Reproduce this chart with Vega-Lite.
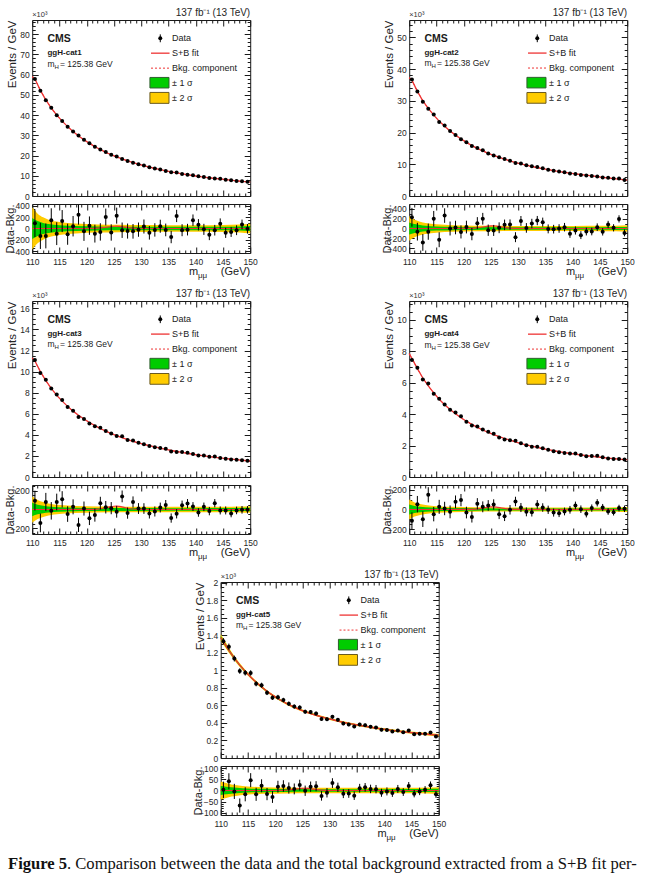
{
  "$schema": "https://vega.github.io/schema/vega-lite/v6.json",
  "background": "#ffffff",
  "padding": {"left": 3, "top": 7, "right": 0, "bottom": 0},
  "config": {
    "font": "Liberation Sans",
    "view": {"stroke": "#1a1a1a", "strokeWidth": 1},
    "axis": {"grid": false, "domain": false, "tickColor": "#1a1a1a", "tickWidth": 1, "labelFont": "Liberation Sans", "labelFontSize": 8.5, "labelColor": "#262626", "labelFlush": false, "labelOverlap": false, "titleFont": "Liberation Sans", "titleFontWeight": "normal", "titleColor": "#262626"},
    "title": {"anchor": "end", "frame": "group", "fontSize": 10, "fontWeight": "normal", "font": "Liberation Sans", "color": "#262626", "offset": -7},
    "text": {"font": "Liberation Sans", "color": "#1a1a1a"}
  },
  "datasets": {
    "one": [{"n": 1}],
    "c1": [
      {"m":110,"f":59.0},
      {"m":110.5,"f":57.8,"d":57.89,"r":90,"e":241},{"m":111.5,"f":52.2,"d":52.07,"r":-130,"e":228},{"m":112.5,"f":47.5,"d":47.37,"r":-130,"e":218},{"m":113.5,"f":43.5,"d":43.65,"r":145,"e":209},
      {"m":114.5,"f":40.0,"d":39.91,"r":-90,"e":200},{"m":115.5,"f":37.0,"d":37.13,"r":130,"e":193},{"m":116.5,"f":34.3,"d":34.2,"r":-100,"e":185},{"m":117.5,"f":31.9,"d":31.94,"r":40,"e":179},
      {"m":118.5,"f":29.7,"d":29.94,"r":240,"e":173},{"m":119.5,"f":27.8,"d":27.75,"r":-50,"e":167},{"m":120.5,"f":26.0,"d":26.05,"r":50,"e":161},{"m":121.5,"f":24.4,"d":24.31,"r":-90,"e":156},
      {"m":122.5,"f":23.0,"d":22.94,"r":-60,"e":152},{"m":123.5,"f":21.6,"d":21.8,"r":200,"e":148},{"m":124.5,"f":20.4,"d":20.33,"r":-70,"e":143},{"m":125.5,"f":19.3,"d":19.53,"r":225,"e":140},
      {"m":126.5,"f":18.3,"d":18.27,"r":-30,"e":135},{"m":127.5,"f":17.4,"d":17.36,"r":-45,"e":132},{"m":128.5,"f":16.5,"d":16.45,"r":-50,"e":128},{"m":129.5,"f":15.7,"d":15.68,"r":-20,"e":125},
      {"m":130.5,"f":15.0,"d":15.04,"r":35,"e":123},{"m":131.5,"f":14.3,"d":14.23,"r":-75,"e":119},{"m":132.5,"f":13.6,"d":13.58,"r":-25,"e":117},{"m":133.5,"f":13.0,"d":13.04,"r":40,"e":114},
      {"m":134.5,"f":12.4,"d":12.38,"r":-25,"e":111},{"m":135.5,"f":11.9,"d":11.75,"r":-150,"e":108},{"m":136.5,"f":11.4,"d":11.62,"r":220,"e":108},{"m":137.5,"f":10.95,"d":10.92,"r":-30,"e":105},
      {"m":138.5,"f":10.5,"d":10.48,"r":-20,"e":102},{"m":139.5,"f":10.1,"d":10.25,"r":145,"e":101},{"m":140.5,"f":9.7,"d":9.77,"r":65,"e":99},{"m":141.5,"f":9.35,"d":9.34,"r":-15,"e":97},
      {"m":142.5,"f":9.0,"d":8.89,"r":-110,"e":94},{"m":143.5,"f":8.7,"d":8.67,"r":-30,"e":93},{"m":144.5,"f":8.4,"d":8.49,"r":85,"e":92},{"m":145.5,"f":8.1,"d":8.03,"r":-75,"e":90},
      {"m":146.5,"f":7.8,"d":7.74,"r":-60,"e":88},{"m":147.5,"f":7.5,"d":7.47,"r":-30,"e":86},{"m":148.5,"f":7.25,"d":7.32,"r":70,"e":86},{"m":149.5,"f":7.0,"d":6.99,"r":-5,"e":84},
      {"m":150,"f":6.9}
    ],
    "c2": [
      {"m":110,"f":37.3},
      {"m":110.5,"f":36.5,"d":36.73,"r":230,"e":192},{"m":111.5,"f":33.0,"d":32.94,"r":-65,"e":182},{"m":112.5,"f":30.0,"d":29.72,"r":-285,"e":172},{"m":113.5,"f":27.6,"d":27.54,"r":-65,"e":166},
      {"m":114.5,"f":25.5,"d":25.7,"r":200,"e":160},{"m":115.5,"f":23.6,"d":23.37,"r":-230,"e":153},{"m":116.5,"f":22.0,"d":22.27,"r":265,"e":149},{"m":117.5,"f":20.5,"d":20.5,"r":0,"e":143},
      {"m":118.5,"f":19.2,"d":19.22,"r":20,"e":139},{"m":119.5,"f":18.0,"d":17.93,"r":-70,"e":134},{"m":120.5,"f":16.9,"d":16.93,"r":30,"e":130},{"m":121.5,"f":15.9,"d":15.79,"r":-115,"e":126},
      {"m":122.5,"f":15.0,"d":15.11,"r":110,"e":123},{"m":123.5,"f":14.2,"d":14.4,"r":200,"e":120},{"m":124.5,"f":13.45,"d":13.42,"r":-35,"e":116},{"m":125.5,"f":12.8,"d":12.76,"r":-40,"e":113},
      {"m":126.5,"f":12.2,"d":12.22,"r":15,"e":111},{"m":127.5,"f":11.6,"d":11.68,"r":75,"e":108},{"m":128.5,"f":11.05,"d":11.13,"r":80,"e":106},{"m":129.5,"f":10.55,"d":10.37,"r":-178,"e":102},
      {"m":130.5,"f":10.1,"d":10.26,"r":155,"e":101},{"m":131.5,"f":9.7,"d":9.71,"r":12,"e":99},{"m":132.5,"f":9.3,"d":9.4,"r":102,"e":97},{"m":133.5,"f":8.95,"d":9.11,"r":162,"e":95},
      {"m":134.5,"f":8.6,"d":8.73,"r":130,"e":93},{"m":135.5,"f":8.3,"d":8.29,"r":-8,"e":91},{"m":136.5,"f":8.0,"d":7.99,"r":-14,"e":89},{"m":137.5,"f":7.7,"d":7.7,"r":0,"e":88},
      {"m":138.5,"f":7.45,"d":7.48,"r":27,"e":87},{"m":139.5,"f":7.2,"d":7.09,"r":-108,"e":84},{"m":140.5,"f":6.95,"d":6.91,"r":-41,"e":83},{"m":141.5,"f":6.75,"d":6.61,"r":-136,"e":81},
      {"m":142.5,"f":6.55,"d":6.49,"r":-61,"e":81},{"m":143.5,"f":6.35,"d":6.29,"r":-61,"e":79},{"m":144.5,"f":6.1,"d":6.13,"r":27,"e":78},{"m":145.5,"f":5.9,"d":5.83,"r":-68,"e":76},
      {"m":146.5,"f":5.7,"d":5.78,"r":81,"e":76},{"m":147.5,"f":5.5,"d":5.51,"r":14,"e":74},{"m":148.5,"f":5.3,"d":5.5,"r":197,"e":74},{"m":149.5,"f":5.1,"d":5.01,"r":-90,"e":71},
      {"m":150,"f":5.0}
    ],
    "c3": [
      {"m":110,"f":11.3},
      {"m":110.5,"f":11.0,"d":11.09,"r":93,"e":105},{"m":111.5,"f":10.0,"d":9.86,"r":-141,"e":99},{"m":112.5,"f":9.15,"d":9.23,"r":79,"e":96},{"m":113.5,"f":8.4,"d":8.39,"r":-14,"e":92},
      {"m":114.5,"f":7.75,"d":7.83,"r":79,"e":88},{"m":115.5,"f":7.2,"d":7.31,"r":107,"e":86},{"m":116.5,"f":6.7,"d":6.65,"r":-48,"e":82},{"m":117.5,"f":6.25,"d":6.28,"r":28,"e":79},
      {"m":118.5,"f":5.85,"d":5.69,"r":-162,"e":75},{"m":119.5,"f":5.5,"d":5.51,"r":10,"e":74},{"m":120.5,"f":5.17,"d":5.08,"r":-93,"e":71},{"m":121.5,"f":4.87,"d":4.81,"r":-59,"e":69},
      {"m":122.5,"f":4.6,"d":4.67,"r":66,"e":68},{"m":123.5,"f":4.35,"d":4.37,"r":24,"e":66},{"m":124.5,"f":4.12,"d":4.13,"r":14,"e":64},{"m":125.5,"f":3.92,"d":3.9,"r":-24,"e":62},
      {"m":126.5,"f":3.73,"d":3.87,"r":138,"e":62},{"m":127.5,"f":3.55,"d":3.51,"r":-38,"e":59},{"m":128.5,"f":3.39,"d":3.47,"r":79,"e":59},{"m":129.5,"f":3.24,"d":3.25,"r":10,"e":57},
      {"m":130.5,"f":3.1,"d":3.11,"r":10,"e":56},{"m":131.5,"f":2.97,"d":2.93,"r":-41,"e":54},{"m":132.5,"f":2.85,"d":2.83,"r":-21,"e":53},{"m":133.5,"f":2.73,"d":2.75,"r":21,"e":52},
      {"m":134.5,"f":2.62,"d":2.67,"r":48,"e":52},{"m":135.5,"f":2.52,"d":2.43,"r":-90,"e":49},{"m":136.5,"f":2.42,"d":2.38,"r":-45,"e":49},{"m":137.5,"f":2.33,"d":2.38,"r":45,"e":49},
      {"m":138.5,"f":2.24,"d":2.3,"r":62,"e":48},{"m":139.5,"f":2.16,"d":2.19,"r":31,"e":47},{"m":140.5,"f":2.08,"d":2.05,"r":-31,"e":45},{"m":141.5,"f":2.01,"d":2.04,"r":28,"e":45},
      {"m":142.5,"f":1.94,"d":1.92,"r":-17,"e":44},{"m":143.5,"f":1.87,"d":1.94,"r":66,"e":44},{"m":144.5,"f":1.81,"d":1.8,"r":-10,"e":42},{"m":145.5,"f":1.75,"d":1.74,"r":-10,"e":42},
      {"m":146.5,"f":1.69,"d":1.65,"r":-41,"e":41},{"m":147.5,"f":1.64,"d":1.63,"r":-10,"e":40},{"m":148.5,"f":1.59,"d":1.59,"r":-3,"e":40},{"m":149.5,"f":1.54,"d":1.54,"r":-3,"e":39},
      {"m":150,"f":1.52}
    ],
    "c4": [
      {"m":110,"f":7.85},
      {"m":110.5,"f":7.55,"d":7.44,"r":-115,"e":86},{"m":111.5,"f":6.9,"d":6.95,"r":54,"e":83},{"m":112.5,"f":6.3,"d":6.2,"r":-98,"e":79},{"m":113.5,"f":5.8,"d":5.95,"r":149,"e":77},
      {"m":114.5,"f":5.35,"d":5.3,"r":-47,"e":73},{"m":115.5,"f":4.95,"d":4.98,"r":27,"e":71},{"m":116.5,"f":4.6,"d":4.61,"r":10,"e":68},{"m":117.5,"f":4.3,"d":4.28,"r":-24,"e":65},
      {"m":118.5,"f":4.02,"d":4.1,"r":78,"e":64},{"m":119.5,"f":3.77,"d":3.87,"r":95,"e":62},{"m":120.5,"f":3.55,"d":3.52,"r":-31,"e":59},{"m":121.5,"f":3.35,"d":3.28,"r":-75,"e":57},
      {"m":122.5,"f":3.16,"d":3.22,"r":58,"e":57},{"m":123.5,"f":2.99,"d":3.02,"r":27,"e":55},{"m":124.5,"f":2.84,"d":2.88,"r":41,"e":54},{"m":125.5,"f":2.7,"d":2.75,"r":51,"e":52},
      {"m":126.5,"f":2.57,"d":2.52,"r":-47,"e":50},{"m":127.5,"f":2.45,"d":2.38,"r":-68,"e":49},{"m":128.5,"f":2.34,"d":2.34,"r":-3,"e":48},{"m":129.5,"f":2.23,"d":2.31,"r":81,"e":48},
      {"m":130.5,"f":2.13,"d":2.15,"r":20,"e":46},{"m":131.5,"f":2.04,"d":2.02,"r":-24,"e":45},{"m":132.5,"f":1.96,"d":1.93,"r":-27,"e":44},{"m":133.5,"f":1.88,"d":1.93,"r":51,"e":44},
      {"m":134.5,"f":1.81,"d":1.83,"r":20,"e":43},{"m":135.5,"f":1.74,"d":1.74,"r":-3,"e":42},{"m":136.5,"f":1.67,"d":1.64,"r":-31,"e":41},{"m":137.5,"f":1.61,"d":1.57,"r":-37,"e":40},
      {"m":138.5,"f":1.55,"d":1.53,"r":-20,"e":39},{"m":139.5,"f":1.5,"d":1.5,"r":-3,"e":39},{"m":140.5,"f":1.45,"d":1.49,"r":41,"e":39},{"m":141.5,"f":1.4,"d":1.4,"r":3,"e":38},
      {"m":142.5,"f":1.36,"d":1.32,"r":-44,"e":36},{"m":143.5,"f":1.32,"d":1.33,"r":14,"e":37},{"m":144.5,"f":1.28,"d":1.35,"r":68,"e":37},{"m":145.5,"f":1.24,"d":1.26,"r":20,"e":36},
      {"m":146.5,"f":1.2,"d":1.18,"r":-20,"e":34},{"m":147.5,"f":1.17,"d":1.14,"r":-27,"e":34},{"m":148.5,"f":1.14,"d":1.15,"r":14,"e":34},{"m":149.5,"f":1.11,"d":1.12,"r":7,"e":33},
      {"m":150,"f":1.1}
    ],
    "c5": [
      {"m":110,"f":1.375},
      {"m":110.5,"f":1.33,"d":1.333,"r":3,"e":36.5,"ek":0.0365},{"m":111.5,"f":1.23,"d":1.271,"r":41,"e":35.7,"ek":0.0357},{"m":112.5,"f":1.14,"d":1.136,"r":-4,"e":33.7,"ek":0.0337},{"m":113.5,"f":1.06,"d":0.993,"r":-67,"e":31.5,"ek":0.0315},
      {"m":114.5,"f":0.99,"d":0.973,"r":-17,"e":31.2,"ek":0.0312},{"m":115.5,"f":0.925,"d":0.971,"r":46,"e":31.2,"ek":0.0312},{"m":116.5,"f":0.865,"d":0.848,"r":-17,"e":29.1,"ek":0.0291},{"m":117.5,"f":0.81,"d":0.831,"r":21,"e":28.8,"ek":0.0288},
      {"m":118.5,"f":0.762,"d":0.746,"r":-16,"e":27.3,"ek":0.0273},{"m":119.5,"f":0.718,"d":0.689,"r":-29,"e":26.2,"ek":0.0262},{"m":120.5,"f":0.678,"d":0.695,"r":17,"e":26.4,"ek":0.0264},{"m":121.5,"f":0.642,"d":0.662,"r":20,"e":25.7,"ek":0.0257},
      {"m":122.5,"f":0.609,"d":0.62,"r":11,"e":24.9,"ek":0.0249},{"m":123.5,"f":0.58,"d":0.587,"r":7,"e":24.2,"ek":0.0242},{"m":124.5,"f":0.553,"d":0.577,"r":24,"e":24.0,"ek":0.024},{"m":125.5,"f":0.53,"d":0.529,"r":-1,"e":23.0,"ek":0.023},
      {"m":126.5,"f":0.508,"d":0.525,"r":17,"e":22.9,"ek":0.0229},{"m":127.5,"f":0.488,"d":0.507,"r":19,"e":22.5,"ek":0.0225},{"m":128.5,"f":0.47,"d":0.446,"r":-24,"e":21.1,"ek":0.0211},{"m":129.5,"f":0.453,"d":0.443,"r":-10,"e":21.0,"ek":0.021},
      {"m":130.5,"f":0.437,"d":0.47,"r":33,"e":21.7,"ek":0.0217},{"m":131.5,"f":0.422,"d":0.436,"r":14,"e":20.9,"ek":0.0209},{"m":132.5,"f":0.408,"d":0.394,"r":-14,"e":19.8,"ek":0.0198},{"m":133.5,"f":0.395,"d":0.382,"r":-13,"e":19.5,"ek":0.0195},
      {"m":134.5,"f":0.383,"d":0.36,"r":-23,"e":19.0,"ek":0.019},{"m":135.5,"f":0.372,"d":0.382,"r":10,"e":19.5,"ek":0.0195},{"m":136.5,"f":0.361,"d":0.375,"r":14,"e":19.4,"ek":0.0194},{"m":137.5,"f":0.351,"d":0.358,"r":7,"e":18.9,"ek":0.0189},
      {"m":138.5,"f":0.341,"d":0.347,"r":6,"e":18.6,"ek":0.0186},{"m":139.5,"f":0.332,"d":0.322,"r":-10,"e":17.9,"ek":0.0179},{"m":140.5,"f":0.323,"d":0.319,"r":-4,"e":17.9,"ek":0.0179},{"m":141.5,"f":0.315,"d":0.304,"r":-11,"e":17.4,"ek":0.0174},
      {"m":142.5,"f":0.307,"d":0.314,"r":7,"e":17.7,"ek":0.0177},{"m":143.5,"f":0.3,"d":0.293,"r":-7,"e":17.1,"ek":0.0171},{"m":144.5,"f":0.293,"d":0.313,"r":20,"e":17.7,"ek":0.0177},{"m":145.5,"f":0.286,"d":0.272,"r":-14,"e":16.5,"ek":0.0165},
      {"m":146.5,"f":0.28,"d":0.276,"r":-4,"e":16.6,"ek":0.0166},{"m":147.5,"f":0.274,"d":0.277,"r":3,"e":16.6,"ek":0.0166},{"m":148.5,"f":0.268,"d":0.291,"r":23,"e":17.1,"ek":0.0171},{"m":149.5,"f":0.263,"d":0.246,"r":-17,"e":15.7,"ek":0.0157},
      {"m":150,"f":0.26}
    ],
    "k1": [
      {"m":110,"c":0,"e1":185,"e2":370},{"m":111,"c":0,"e1":130,"e2":260},{"m":112,"c":0,"e1":98,"e2":195},{"m":113,"c":0,"e1":78,"e2":155},{"m":115,"c":0,"e1":58,"e2":115},
      {"m":118,"c":0,"e1":44,"e2":88},{"m":122,"c":0,"e1":36,"e2":72},{"m":126,"c":0,"e1":32,"e2":64},{"m":130,"c":0,"e1":30,"e2":60},{"m":135,"c":0,"e1":29,"e2":58},
      {"m":140,"c":0,"e1":29,"e2":58},{"m":145,"c":0,"e1":31,"e2":62},{"m":148,"c":0,"e1":35,"e2":70},{"m":150,"c":0,"e1":43,"e2":85}
    ],
    "k2": [
      {"m":110,"c":0,"e1":125,"e2":250},{"m":111,"c":0,"e1":90,"e2":180},{"m":112,"c":0,"e1":70,"e2":140},{"m":113,"c":0,"e1":56,"e2":112},{"m":115,"c":0,"e1":43,"e2":85},
      {"m":118,"c":0,"e1":34,"e2":67},{"m":122,"c":0,"e1":29,"e2":58},{"m":126,"c":0,"e1":27,"e2":54},{"m":130,"c":0,"e1":26,"e2":52},{"m":135,"c":0,"e1":26,"e2":51},
      {"m":140,"c":0,"e1":26,"e2":51},{"m":145,"c":0,"e1":27,"e2":54},{"m":148,"c":0,"e1":29,"e2":58},{"m":150,"c":0,"e1":33,"e2":66}
    ],
    "k3": [
      {"m":110,"c":0,"e1":70,"e2":140},{"m":111,"c":0,"e1":50,"e2":100},{"m":112,"c":0,"e1":39,"e2":78},{"m":113,"c":0,"e1":31,"e2":62},{"m":115,"c":0,"e1":24,"e2":47},
      {"m":118,"c":0,"e1":19,"e2":37},{"m":122,"c":0,"e1":16,"e2":32},{"m":126,"c":0,"e1":15,"e2":30},{"m":130,"c":0,"e1":15,"e2":29},{"m":135,"c":0,"e1":14,"e2":28},
      {"m":140,"c":0,"e1":14,"e2":28},{"m":145,"c":0,"e1":15,"e2":29},{"m":148,"c":0,"e1":16,"e2":31},{"m":150,"c":0,"e1":18,"e2":35}
    ],
    "k4": [
      {"m":110,"c":0,"e1":50,"e2":100},{"m":111,"c":0,"e1":36,"e2":72},{"m":112,"c":0,"e1":28,"e2":56},{"m":113,"c":0,"e1":23,"e2":45},{"m":115,"c":0,"e1":17,"e2":34},
      {"m":118,"c":0,"e1":14,"e2":27},{"m":122,"c":0,"e1":12,"e2":23},{"m":126,"c":0,"e1":11,"e2":21},{"m":130,"c":0,"e1":10,"e2":20},{"m":135,"c":0,"e1":10,"e2":20},
      {"m":140,"c":0,"e1":10,"e2":20},{"m":145,"c":0,"e1":11,"e2":21},{"m":148,"c":0,"e1":12,"e2":23},{"m":150,"c":0,"e1":13,"e2":26}
    ],
    "k5": [
      {"m":110,"c":0,"e1":20,"e2":40,"f":1.375,"g1":0.02,"g2":0.04},{"m":111,"c":0,"e1":17,"e2":33,"f":1.28,"g1":0.017,"g2":0.033},{"m":112,"c":0,"e1":14,"e2":27,"f":1.185,"g1":0.014,"g2":0.027},
      {"m":113,"c":0,"e1":12,"e2":23,"f":1.1,"g1":0.012,"g2":0.023},{"m":115,"c":0,"e1":9,"e2":18,"f":0.957,"g1":0.009,"g2":0.018},{"m":118,"c":0,"e1":7.5,"e2":15,"f":0.785,"g1":0.0075,"g2":0.015},
      {"m":122,"c":0,"e1":6.5,"e2":13,"f":0.625,"g1":0.0065,"g2":0.013},{"m":126,"c":0,"e1":6,"e2":12,"f":0.519,"g1":0.006,"g2":0.012},{"m":130,"c":0,"e1":6,"e2":12,"f":0.445,"g1":0.006,"g2":0.012},
      {"m":135,"c":0,"e1":6,"e2":12,"f":0.377,"g1":0.006,"g2":0.012},{"m":140,"c":0,"e1":6,"e2":12,"f":0.327,"g1":0.006,"g2":0.012},{"m":145,"c":0,"e1":6.3,"e2":12.5,"f":0.289,"g1":0.0063,"g2":0.0125},
      {"m":148,"c":0,"e1":6.8,"e2":13.5,"f":0.271,"g1":0.0068,"g2":0.0135},{"m":150,"c":0,"e1":7.5,"e2":15,"f":0.26,"g1":0.0075,"g2":0.015}
    ],
    "sig": [
      {"m":110,"s1":0,"s2":0,"s3":0,"s4":0,"s5":0},
      {"m":120,"s1":0.4,"s2":0.6,"s3":0.4,"s4":0.3,"s5":0.1},
      {"m":121,"s1":1.2,"s2":1.7,"s3":1,"s4":0.8,"s5":0.3},
      {"m":122,"s1":5,"s2":7,"s3":4,"s4":3,"s5":1.2},
      {"m":123,"s1":14,"s2":20,"s3":13,"s4":10,"s5":3.6},
      {"m":124,"s1":29,"s2":40,"s3":25,"s4":19,"s5":7.2},
      {"m":124.5,"s1":35,"s2":48,"s3":31,"s4":24,"s5":8.8},
      {"m":125,"s1":39,"s2":54,"s3":34,"s4":26,"s5":9.8},
      {"m":125.5,"s1":40,"s2":55,"s3":35,"s4":27,"s5":10},
      {"m":126,"s1":36,"s2":50,"s3":32,"s4":25,"s5":9.1},
      {"m":127,"s1":23,"s2":31,"s3":20,"s4":15,"s5":5.7},
      {"m":128,"s1":10,"s2":13,"s3":8,"s4":6.5,"s5":2.4},
      {"m":129,"s1":3,"s2":4,"s3":2.5,"s4":2,"s5":0.7},
      {"m":130,"s1":0.4,"s2":0.6,"s3":0.4,"s4":0.3,"s5":0.1},
      {"m":131,"s1":0,"s2":0,"s3":0,"s4":0,"s5":0},
      {"m":150,"s1":0,"s2":0,"s3":0,"s4":0,"s5":0}
    ]
  },
  "spacing": 9,
  "vconcat": [
    {
      "spacing": 7,
      "center": true,
      "vconcat": [
        {
          "spacing": 122,
          "hconcat": [
            {
              "spacing": 8,
              "bounds": "flush",
              "vconcat": [
                {
                  "width": 218, "height": 176,
                  "title": "137 fb⁻¹ (13 TeV)",
                  "resolve": {"axis": {"x": "independent", "y": "independent"}},
                  "layer": [
                    {
                      "layer": [
                        {"data": {"name": "c1"}, "mark": {"type": "line", "color": "#ee3333", "strokeWidth": 1, "strokeDash": [2, 2]},
                         "encoding": {
                           "x": {"field": "m", "type": "quantitative", "scale": {"domain": [110, 150], "nice": false, "zero": false},
                             "axis": {"orient": "bottom", "tickCount": 40, "labels": false, "title": null, "tickSize": {"expr": "datum.value % 5 === 0 ? -6 : -3"}}},
                           "y": {"field": "f", "type": "quantitative", "title": "Events / GeV", "scale": {"domain": [0, 87], "nice": false},
                             "axis": {"orient": "left", "tickCount": 40, "titleAnchor": "end", "titleFontSize": 11.5, "titleX": -15, "labelPadding": 9,
                               "labelExpr": "datum.value % 10 === 0 ? format(datum.value, '~g') : ''",
                               "tickSize": {"expr": "datum.value % 10 === 0 ? -6 : -3"}}}}},
                        {"data": {"name": "c1"}, "mark": {"type": "line", "color": "#ee3333", "strokeWidth": 1.3},
                         "encoding": {"x": {"field": "m", "type": "quantitative"}, "y": {"field": "f", "type": "quantitative", "title": "Events / GeV"}}},
                        {"data": {"name": "c1"}, "transform": [{"filter": "isValid(datum.d)"}], "mark": {"type": "circle", "size": 16, "color": "#000000", "opacity": 1},
                         "encoding": {"x": {"field": "m", "type": "quantitative"}, "y": {"field": "d", "type": "quantitative", "title": "Events / GeV"}}},
                        {
                          "data": {"name": "one"},
                          "layer": [
                            {"mark": {"type": "text", "align": "left", "baseline": "alphabetic", "fontSize": 7.5, "dy": -3, "color": "#333333"}, "encoding": {"x": {"datum": 110}, "y": {"datum": 87}, "text": {"value": "×10³"}}},
                            {"mark": {"type": "text", "align": "left", "baseline": "alphabetic", "fontSize": 10.5, "fontWeight": "bold"}, "encoding": {"x": {"datum": 112.8}, "y": {"datum": 76.3}, "text": {"value": "CMS"}}},
                            {"mark": {"type": "text", "align": "left", "baseline": "alphabetic", "fontSize": 8, "fontWeight": "bold"}, "encoding": {"x": {"datum": 112.8}, "y": {"datum": 69.8}, "text": {"value": "ggH-cat1"}}},
                            {"mark": {"type": "text", "align": "left", "baseline": "alphabetic", "fontSize": 8.5}, "encoding": {"x": {"datum": 112.8}, "y": {"datum": 64.0}, "text": {"value": "m"}}},
                            {"mark": {"type": "text", "align": "left", "baseline": "alphabetic", "fontSize": 6, "dx": 7, "dy": 2}, "encoding": {"x": {"datum": 112.8}, "y": {"datum": 64.0}, "text": {"value": "H"}}},
                            {"mark": {"type": "text", "align": "left", "baseline": "alphabetic", "fontSize": 8.5, "dx": 12.5}, "encoding": {"x": {"datum": 112.8}, "y": {"datum": 64.0}, "text": {"value": "= 125.38 GeV"}}},
                            {"mark": {"type": "rule", "color": "#000000", "strokeWidth": 1}, "encoding": {"x": {"datum": 133.5}, "y": {"datum": 76.0}, "y2": {"datum": 79.9}}},
                            {"mark": {"type": "circle", "size": 16, "color": "#000000", "opacity": 1}, "encoding": {"x": {"datum": 133.5}, "y": {"datum": 77.95}}},
                            {"mark": {"type": "text", "align": "left", "baseline": "middle", "fontSize": 9}, "encoding": {"x": {"datum": 135.65}, "y": {"datum": 77.95}, "text": {"value": "Data"}}},
                            {"mark": {"type": "rule", "color": "#ee3333", "strokeWidth": 1.3}, "encoding": {"x": {"datum": 131.8}, "x2": {"datum": 135.2}, "y": {"datum": 70.6}}},
                            {"mark": {"type": "text", "align": "left", "baseline": "middle", "fontSize": 9}, "encoding": {"x": {"datum": 135.65}, "y": {"datum": 70.6}, "text": {"value": "S+B fit"}}},
                            {"mark": {"type": "rule", "color": "#ee3333", "strokeWidth": 1, "strokeDash": [2, 2]}, "encoding": {"x": {"datum": 131.8}, "x2": {"datum": 135.2}, "y": {"datum": 63.2}}},
                            {"mark": {"type": "text", "align": "left", "baseline": "middle", "fontSize": 9}, "encoding": {"x": {"datum": 135.65}, "y": {"datum": 63.2}, "text": {"value": "Bkg. component"}}},
                            {"mark": {"type": "rect", "fill": "#00cc00", "stroke": "#2f5f2f", "strokeWidth": 1}, "encoding": {"x": {"datum": 131.6}, "x2": {"datum": 135.1}, "y": {"datum": 58.6}, "y2": {"datum": 53.4}}},
                            {"mark": {"type": "text", "align": "left", "baseline": "middle", "fontSize": 9}, "encoding": {"x": {"datum": 135.65}, "y": {"datum": 56.0}, "text": {"value": "± 1 σ"}}},
                            {"mark": {"type": "rect", "fill": "#ffcc00", "stroke": "#6a5a20", "strokeWidth": 1}, "encoding": {"x": {"datum": 131.6}, "x2": {"datum": 135.1}, "y": {"datum": 51.2}, "y2": {"datum": 45.8}}},
                            {"mark": {"type": "text", "align": "left", "baseline": "middle", "fontSize": 9}, "encoding": {"x": {"datum": 135.65}, "y": {"datum": 48.5}, "text": {"value": "± 2 σ"}}}
                          ]
                        }
                      ]
                    },
                    {"data": {"name": "c1"}, "mark": {"type": "point", "opacity": 0},
                     "encoding": {
                       "x": {"field": "m", "type": "quantitative", "axis": {"orient": "top", "tickCount": 40, "labels": false, "title": null, "tickSize": {"expr": "datum.value % 5 === 0 ? -6 : -3"}}},
                       "y": {"field": "f", "type": "quantitative", "axis": {"orient": "right", "tickCount": 40, "labels": false, "title": null, "tickSize": {"expr": "datum.value % 10 === 0 ? -6 : -3"}}}}}
                  ]
                },
                {
                  "width": 218, "height": 49,
                  "resolve": {"axis": {"x": "independent", "y": "independent"}},
                  "layer": [
                    {
                      "layer": [
                        {"data": {"name": "k1"}, "mark": {"type": "errorband", "color": "#ffcc00", "opacity": 1, "interpolate": "monotone"},
                         "encoding": {
                           "x": {"field": "m", "type": "quantitative", "scale": {"domain": [110, 150], "nice": false, "zero": false},
                             "axis": {"orient": "bottom", "tickCount": 40, "title": null, "labelPadding": 10, "labelExpr": "datum.value % 5 === 0 ? datum.label : ''", "tickSize": {"expr": "datum.value % 5 === 0 ? -6 : -3"}}},
                           "y": {"field": "c", "type": "quantitative", "title": "Data-Bkg.", "scale": {"domain": [-429, 429], "nice": false},
                             "axis": {"orient": "left", "tickCount": 17, "titleFontSize": 11, "titleX": -17, "labelPadding": 8,
                               "labelExpr": "datum.value % 200 === 0 ? format(datum.value, '~g') : ''",
                               "tickSize": {"expr": "datum.value % 200 === 0 ? -5 : -2.5"}}},
                           "yError": {"field": "e2"}}},
                        {"data": {"name": "k1"}, "mark": {"type": "errorband", "color": "#00cc00", "opacity": 1, "interpolate": "monotone"},
                         "encoding": {"x": {"field": "m", "type": "quantitative"}, "y": {"field": "c", "type": "quantitative", "title": "Data-Bkg."}, "yError": {"field": "e1"}}},
                        {"data": {"name": "sig"}, "mark": {"type": "line", "color": "#ee3333", "strokeWidth": 1.2, "interpolate": "monotone"},
                         "encoding": {"x": {"field": "m", "type": "quantitative"}, "y": {"field": "s1", "type": "quantitative", "title": "Data-Bkg."}}},
                        {"data": {"name": "c1"}, "transform": [{"filter": "isValid(datum.r)"}], "mark": {"type": "errorbar", "color": "#000000", "ticks": false},
                         "encoding": {"x": {"field": "m", "type": "quantitative"}, "y": {"field": "r", "type": "quantitative", "title": "Data-Bkg."}, "yError": {"field": "e"}}},
                        {"data": {"name": "c1"}, "transform": [{"filter": "isValid(datum.r)"}], "mark": {"type": "circle", "size": 16, "color": "#000000", "opacity": 1},
                         "encoding": {"x": {"field": "m", "type": "quantitative"}, "y": {"field": "r", "type": "quantitative", "title": "Data-Bkg."}}},
                        {
                          "data": {"name": "one"},
                          "layer": [
                            {"mark": {"type": "text", "align": "right", "baseline": "alphabetic", "fontSize": 11, "dy": 22}, "encoding": {"x": {"datum": 150}, "y": {"datum": -429}, "text": {"value": "(GeV)"}}},
                            {"mark": {"type": "text", "align": "right", "baseline": "alphabetic", "fontSize": 8, "dx": -43, "dy": 25}, "encoding": {"x": {"datum": 150}, "y": {"datum": -429}, "text": {"value": "μμ"}}},
                            {"mark": {"type": "text", "align": "right", "baseline": "alphabetic", "fontSize": 11, "dx": -52, "dy": 22}, "encoding": {"x": {"datum": 150}, "y": {"datum": -429}, "text": {"value": "m"}}}
                          ]
                        }
                      ]
                    },
                    {"data": {"name": "k1"}, "mark": {"type": "point", "opacity": 0},
                     "encoding": {
                       "x": {"field": "m", "type": "quantitative", "axis": {"orient": "top", "tickCount": 40, "labels": false, "title": null, "tickSize": {"expr": "datum.value % 5 === 0 ? -6 : -3"}}},
                       "y": {"field": "c", "type": "quantitative", "axis": {"orient": "right", "tickCount": 17, "labels": false, "title": null, "tickSize": {"expr": "datum.value % 200 === 0 ? -5 : -2.5"}}}}}
                  ]
                }
              ]
            },
            {
              "spacing": 8,
              "bounds": "flush",
              "vconcat": [
                {
                  "width": 218, "height": 176,
                  "title": "137 fb⁻¹ (13 TeV)",
                  "resolve": {"axis": {"x": "independent", "y": "independent"}},
                  "layer": [
                    {
                      "layer": [
                        {"data": {"name": "c2"}, "mark": {"type": "line", "color": "#ee3333", "strokeWidth": 1, "strokeDash": [2, 2]},
                         "encoding": {
                           "x": {"field": "m", "type": "quantitative", "scale": {"domain": [110, 150], "nice": false, "zero": false},
                             "axis": {"orient": "bottom", "tickCount": 40, "labels": false, "title": null, "tickSize": {"expr": "datum.value % 5 === 0 ? -6 : -3"}}},
                           "y": {"field": "f", "type": "quantitative", "title": "Events / GeV", "scale": {"domain": [0, 55.5], "nice": false},
                             "axis": {"orient": "left", "tickCount": 28, "titleAnchor": "end", "titleFontSize": 11.5, "titleX": -15, "labelPadding": 9,
                               "labelExpr": "datum.value % 10 === 0 ? format(datum.value, '~g') : ''",
                               "tickSize": {"expr": "datum.value % 10 === 0 ? -6 : -3"}}}}},
                        {"data": {"name": "c2"}, "mark": {"type": "line", "color": "#ee3333", "strokeWidth": 1.3},
                         "encoding": {"x": {"field": "m", "type": "quantitative"}, "y": {"field": "f", "type": "quantitative", "title": "Events / GeV"}}},
                        {"data": {"name": "c2"}, "transform": [{"filter": "isValid(datum.d)"}], "mark": {"type": "circle", "size": 16, "color": "#000000", "opacity": 1},
                         "encoding": {"x": {"field": "m", "type": "quantitative"}, "y": {"field": "d", "type": "quantitative", "title": "Events / GeV"}}},
                        {
                          "data": {"name": "one"},
                          "layer": [
                            {"mark": {"type": "text", "align": "left", "baseline": "alphabetic", "fontSize": 7.5, "dy": -3, "color": "#333333"}, "encoding": {"x": {"datum": 110}, "y": {"datum": 55.5}, "text": {"value": "×10³"}}},
                            {"mark": {"type": "text", "align": "left", "baseline": "alphabetic", "fontSize": 10.5, "fontWeight": "bold"}, "encoding": {"x": {"datum": 112.8}, "y": {"datum": 48.67}, "text": {"value": "CMS"}}},
                            {"mark": {"type": "text", "align": "left", "baseline": "alphabetic", "fontSize": 8, "fontWeight": "bold"}, "encoding": {"x": {"datum": 112.8}, "y": {"datum": 44.51}, "text": {"value": "ggH-cat2"}}},
                            {"mark": {"type": "text", "align": "left", "baseline": "alphabetic", "fontSize": 8.5}, "encoding": {"x": {"datum": 112.8}, "y": {"datum": 40.85}, "text": {"value": "m"}}},
                            {"mark": {"type": "text", "align": "left", "baseline": "alphabetic", "fontSize": 6, "dx": 7, "dy": 2}, "encoding": {"x": {"datum": 112.8}, "y": {"datum": 40.85}, "text": {"value": "H"}}},
                            {"mark": {"type": "text", "align": "left", "baseline": "alphabetic", "fontSize": 8.5, "dx": 12.5}, "encoding": {"x": {"datum": 112.8}, "y": {"datum": 40.85}, "text": {"value": "= 125.38 GeV"}}},
                            {"mark": {"type": "rule", "color": "#000000", "strokeWidth": 1}, "encoding": {"x": {"datum": 133.5}, "y": {"datum": 48.5}, "y2": {"datum": 50.95}}},
                            {"mark": {"type": "circle", "size": 16, "color": "#000000", "opacity": 1}, "encoding": {"x": {"datum": 133.5}, "y": {"datum": 49.73}}},
                            {"mark": {"type": "text", "align": "left", "baseline": "middle", "fontSize": 9}, "encoding": {"x": {"datum": 135.65}, "y": {"datum": 49.73}, "text": {"value": "Data"}}},
                            {"mark": {"type": "rule", "color": "#ee3333", "strokeWidth": 1.3}, "encoding": {"x": {"datum": 131.8}, "x2": {"datum": 135.2}, "y": {"datum": 45.07}}},
                            {"mark": {"type": "text", "align": "left", "baseline": "middle", "fontSize": 9}, "encoding": {"x": {"datum": 135.65}, "y": {"datum": 45.07}, "text": {"value": "S+B fit"}}},
                            {"mark": {"type": "rule", "color": "#ee3333", "strokeWidth": 1, "strokeDash": [2, 2]}, "encoding": {"x": {"datum": 131.8}, "x2": {"datum": 135.2}, "y": {"datum": 40.35}}},
                            {"mark": {"type": "text", "align": "left", "baseline": "middle", "fontSize": 9}, "encoding": {"x": {"datum": 135.65}, "y": {"datum": 40.35}, "text": {"value": "Bkg. component"}}},
                            {"mark": {"type": "rect", "fill": "#00cc00", "stroke": "#2f5f2f", "strokeWidth": 1}, "encoding": {"x": {"datum": 131.6}, "x2": {"datum": 135.1}, "y": {"datum": 37.41}, "y2": {"datum": 34.08}}},
                            {"mark": {"type": "text", "align": "left", "baseline": "middle", "fontSize": 9}, "encoding": {"x": {"datum": 135.65}, "y": {"datum": 35.74}, "text": {"value": "± 1 σ"}}},
                            {"mark": {"type": "rect", "fill": "#ffcc00", "stroke": "#6a5a20", "strokeWidth": 1}, "encoding": {"x": {"datum": 131.6}, "x2": {"datum": 135.1}, "y": {"datum": 32.63}, "y2": {"datum": 29.25}}},
                            {"mark": {"type": "text", "align": "left", "baseline": "middle", "fontSize": 9}, "encoding": {"x": {"datum": 135.65}, "y": {"datum": 30.97}, "text": {"value": "± 2 σ"}}}
                          ]
                        }
                      ]
                    },
                    {"data": {"name": "c2"}, "mark": {"type": "point", "opacity": 0},
                     "encoding": {
                       "x": {"field": "m", "type": "quantitative", "axis": {"orient": "top", "tickCount": 40, "labels": false, "title": null, "tickSize": {"expr": "datum.value % 5 === 0 ? -6 : -3"}}},
                       "y": {"field": "f", "type": "quantitative", "axis": {"orient": "right", "tickCount": 28, "labels": false, "title": null, "tickSize": {"expr": "datum.value % 10 === 0 ? -6 : -3"}}}}}
                  ]
                },
                {
                  "width": 218, "height": 49,
                  "resolve": {"axis": {"x": "independent", "y": "independent"}},
                  "layer": [
                    {
                      "layer": [
                        {"data": {"name": "k2"}, "mark": {"type": "errorband", "color": "#ffcc00", "opacity": 1, "interpolate": "monotone"},
                         "encoding": {
                           "x": {"field": "m", "type": "quantitative", "scale": {"domain": [110, 150], "nice": false, "zero": false},
                             "axis": {"orient": "bottom", "tickCount": 40, "title": null, "labelPadding": 10, "labelExpr": "datum.value % 5 === 0 ? datum.label : ''", "tickSize": {"expr": "datum.value % 5 === 0 ? -6 : -3"}}},
                           "y": {"field": "c", "type": "quantitative", "title": "Data-Bkg.", "scale": {"domain": [-502, 502], "nice": false},
                             "axis": {"orient": "left", "tickCount": 10, "titleFontSize": 11, "titleX": -17, "labelPadding": 8,
                               "labelExpr": "datum.value % 200 === 0 ? format(datum.value, '~g') : ''",
                               "tickSize": {"expr": "datum.value % 200 === 0 ? -5 : -2.5"}}},
                           "yError": {"field": "e2"}}},
                        {"data": {"name": "k2"}, "mark": {"type": "errorband", "color": "#00cc00", "opacity": 1, "interpolate": "monotone"},
                         "encoding": {"x": {"field": "m", "type": "quantitative"}, "y": {"field": "c", "type": "quantitative", "title": "Data-Bkg."}, "yError": {"field": "e1"}}},
                        {"data": {"name": "sig"}, "mark": {"type": "line", "color": "#ee3333", "strokeWidth": 1.2, "interpolate": "monotone"},
                         "encoding": {"x": {"field": "m", "type": "quantitative"}, "y": {"field": "s2", "type": "quantitative", "title": "Data-Bkg."}}},
                        {"data": {"name": "c2"}, "transform": [{"filter": "isValid(datum.r)"}], "mark": {"type": "errorbar", "color": "#000000", "ticks": false},
                         "encoding": {"x": {"field": "m", "type": "quantitative"}, "y": {"field": "r", "type": "quantitative", "title": "Data-Bkg."}, "yError": {"field": "e"}}},
                        {"data": {"name": "c2"}, "transform": [{"filter": "isValid(datum.r)"}], "mark": {"type": "circle", "size": 16, "color": "#000000", "opacity": 1},
                         "encoding": {"x": {"field": "m", "type": "quantitative"}, "y": {"field": "r", "type": "quantitative", "title": "Data-Bkg."}}},
                        {
                          "data": {"name": "one"},
                          "layer": [
                            {"mark": {"type": "text", "align": "right", "baseline": "alphabetic", "fontSize": 11, "dy": 22}, "encoding": {"x": {"datum": 150}, "y": {"datum": -502}, "text": {"value": "(GeV)"}}},
                            {"mark": {"type": "text", "align": "right", "baseline": "alphabetic", "fontSize": 8, "dx": -43, "dy": 25}, "encoding": {"x": {"datum": 150}, "y": {"datum": -502}, "text": {"value": "μμ"}}},
                            {"mark": {"type": "text", "align": "right", "baseline": "alphabetic", "fontSize": 11, "dx": -52, "dy": 22}, "encoding": {"x": {"datum": 150}, "y": {"datum": -502}, "text": {"value": "m"}}}
                          ]
                        }
                      ]
                    },
                    {"data": {"name": "k2"}, "mark": {"type": "point", "opacity": 0},
                     "encoding": {
                       "x": {"field": "m", "type": "quantitative", "axis": {"orient": "top", "tickCount": 40, "labels": false, "title": null, "tickSize": {"expr": "datum.value % 5 === 0 ? -6 : -3"}}},
                       "y": {"field": "c", "type": "quantitative", "axis": {"orient": "right", "tickCount": 10, "labels": false, "title": null, "tickSize": {"expr": "datum.value % 200 === 0 ? -5 : -2.5"}}}}}
                  ]
                }
              ]
            }
          ]
        },
        {
          "spacing": 122,
          "hconcat": [
            {
              "spacing": 8,
              "bounds": "flush",
              "vconcat": [
                {
                  "width": 218, "height": 176,
                  "title": "137 fb⁻¹ (13 TeV)",
                  "resolve": {"axis": {"x": "independent", "y": "independent"}},
                  "layer": [
                    {
                      "layer": [
                        {"data": {"name": "c3"}, "mark": {"type": "line", "color": "#ee3333", "strokeWidth": 1, "strokeDash": [2, 2]},
                         "encoding": {
                           "x": {"field": "m", "type": "quantitative", "scale": {"domain": [110, 150], "nice": false, "zero": false},
                             "axis": {"orient": "bottom", "tickCount": 40, "labels": false, "title": null, "tickSize": {"expr": "datum.value % 5 === 0 ? -6 : -3"}}},
                           "y": {"field": "f", "type": "quantitative", "title": "Events / GeV", "scale": {"domain": [0, 16.7], "nice": false},
                             "axis": {"orient": "left", "tickCount": 33, "titleAnchor": "end", "titleFontSize": 11.5, "titleX": -15, "labelPadding": 9,
                               "labelExpr": "datum.value % 2 === 0 ? format(datum.value, '~g') : ''",
                               "tickSize": {"expr": "datum.value % 2 === 0 ? -6 : -3"}}}}},
                        {"data": {"name": "c3"}, "mark": {"type": "line", "color": "#ee3333", "strokeWidth": 1.3},
                         "encoding": {"x": {"field": "m", "type": "quantitative"}, "y": {"field": "f", "type": "quantitative", "title": "Events / GeV"}}},
                        {"data": {"name": "c3"}, "transform": [{"filter": "isValid(datum.d)"}], "mark": {"type": "circle", "size": 16, "color": "#000000", "opacity": 1},
                         "encoding": {"x": {"field": "m", "type": "quantitative"}, "y": {"field": "d", "type": "quantitative", "title": "Events / GeV"}}},
                        {
                          "data": {"name": "one"},
                          "layer": [
                            {"mark": {"type": "text", "align": "left", "baseline": "alphabetic", "fontSize": 7.5, "dy": -3, "color": "#333333"}, "encoding": {"x": {"datum": 110}, "y": {"datum": 16.7}, "text": {"value": "×10³"}}},
                            {"mark": {"type": "text", "align": "left", "baseline": "alphabetic", "fontSize": 10.5, "fontWeight": "bold"}, "encoding": {"x": {"datum": 112.8}, "y": {"datum": 14.65}, "text": {"value": "CMS"}}},
                            {"mark": {"type": "text", "align": "left", "baseline": "alphabetic", "fontSize": 8, "fontWeight": "bold"}, "encoding": {"x": {"datum": 112.8}, "y": {"datum": 13.39}, "text": {"value": "ggH-cat3"}}},
                            {"mark": {"type": "text", "align": "left", "baseline": "alphabetic", "fontSize": 8.5}, "encoding": {"x": {"datum": 112.8}, "y": {"datum": 12.29}, "text": {"value": "m"}}},
                            {"mark": {"type": "text", "align": "left", "baseline": "alphabetic", "fontSize": 6, "dx": 7, "dy": 2}, "encoding": {"x": {"datum": 112.8}, "y": {"datum": 12.29}, "text": {"value": "H"}}},
                            {"mark": {"type": "text", "align": "left", "baseline": "alphabetic", "fontSize": 8.5, "dx": 12.5}, "encoding": {"x": {"datum": 112.8}, "y": {"datum": 12.29}, "text": {"value": "= 125.38 GeV"}}},
                            {"mark": {"type": "rule", "color": "#000000", "strokeWidth": 1}, "encoding": {"x": {"datum": 133.5}, "y": {"datum": 14.6}, "y2": {"datum": 15.33}}},
                            {"mark": {"type": "circle", "size": 16, "color": "#000000", "opacity": 1}, "encoding": {"x": {"datum": 133.5}, "y": {"datum": 14.96}}},
                            {"mark": {"type": "text", "align": "left", "baseline": "middle", "fontSize": 9}, "encoding": {"x": {"datum": 135.65}, "y": {"datum": 14.96}, "text": {"value": "Data"}}},
                            {"mark": {"type": "rule", "color": "#ee3333", "strokeWidth": 1.3}, "encoding": {"x": {"datum": 131.8}, "x2": {"datum": 135.2}, "y": {"datum": 13.56}}},
                            {"mark": {"type": "text", "align": "left", "baseline": "middle", "fontSize": 9}, "encoding": {"x": {"datum": 135.65}, "y": {"datum": 13.56}, "text": {"value": "S+B fit"}}},
                            {"mark": {"type": "rule", "color": "#ee3333", "strokeWidth": 1, "strokeDash": [2, 2]}, "encoding": {"x": {"datum": 131.8}, "x2": {"datum": 135.2}, "y": {"datum": 12.14}}},
                            {"mark": {"type": "text", "align": "left", "baseline": "middle", "fontSize": 9}, "encoding": {"x": {"datum": 135.65}, "y": {"datum": 12.14}, "text": {"value": "Bkg. component"}}},
                            {"mark": {"type": "rect", "fill": "#00cc00", "stroke": "#2f5f2f", "strokeWidth": 1}, "encoding": {"x": {"datum": 131.6}, "x2": {"datum": 135.1}, "y": {"datum": 11.26}, "y2": {"datum": 10.25}}},
                            {"mark": {"type": "text", "align": "left", "baseline": "middle", "fontSize": 9}, "encoding": {"x": {"datum": 135.65}, "y": {"datum": 10.75}, "text": {"value": "± 1 σ"}}},
                            {"mark": {"type": "rect", "fill": "#ffcc00", "stroke": "#6a5a20", "strokeWidth": 1}, "encoding": {"x": {"datum": 131.6}, "x2": {"datum": 135.1}, "y": {"datum": 9.82}, "y2": {"datum": 8.8}}},
                            {"mark": {"type": "text", "align": "left", "baseline": "middle", "fontSize": 9}, "encoding": {"x": {"datum": 135.65}, "y": {"datum": 9.32}, "text": {"value": "± 2 σ"}}}
                          ]
                        }
                      ]
                    },
                    {"data": {"name": "c3"}, "mark": {"type": "point", "opacity": 0},
                     "encoding": {
                       "x": {"field": "m", "type": "quantitative", "axis": {"orient": "top", "tickCount": 40, "labels": false, "title": null, "tickSize": {"expr": "datum.value % 5 === 0 ? -6 : -3"}}},
                       "y": {"field": "f", "type": "quantitative", "axis": {"orient": "right", "tickCount": 33, "labels": false, "title": null, "tickSize": {"expr": "datum.value % 2 === 0 ? -6 : -3"}}}}}
                  ]
                },
                {
                  "width": 218, "height": 49,
                  "resolve": {"axis": {"x": "independent", "y": "independent"}},
                  "layer": [
                    {
                      "layer": [
                        {"data": {"name": "k3"}, "mark": {"type": "errorband", "color": "#ffcc00", "opacity": 1, "interpolate": "monotone"},
                         "encoding": {
                           "x": {"field": "m", "type": "quantitative", "scale": {"domain": [110, 150], "nice": false, "zero": false},
                             "axis": {"orient": "bottom", "tickCount": 40, "title": null, "labelPadding": 10, "labelExpr": "datum.value % 5 === 0 ? datum.label : ''", "tickSize": {"expr": "datum.value % 5 === 0 ? -6 : -3"}}},
                           "y": {"field": "c", "type": "quantitative", "title": "Data-Bkg.", "scale": {"domain": [-258, 258], "nice": false},
                             "axis": {"orient": "left", "tickCount": 10, "titleFontSize": 11, "titleX": -17, "labelPadding": 8,
                               "labelExpr": "datum.value % 200 === 0 ? format(datum.value, '~g') : ''",
                               "tickSize": {"expr": "datum.value % 200 === 0 ? -5 : -2.5"}}},
                           "yError": {"field": "e2"}}},
                        {"data": {"name": "k3"}, "mark": {"type": "errorband", "color": "#00cc00", "opacity": 1, "interpolate": "monotone"},
                         "encoding": {"x": {"field": "m", "type": "quantitative"}, "y": {"field": "c", "type": "quantitative", "title": "Data-Bkg."}, "yError": {"field": "e1"}}},
                        {"data": {"name": "sig"}, "mark": {"type": "line", "color": "#ee3333", "strokeWidth": 1.2, "interpolate": "monotone"},
                         "encoding": {"x": {"field": "m", "type": "quantitative"}, "y": {"field": "s3", "type": "quantitative", "title": "Data-Bkg."}}},
                        {"data": {"name": "c3"}, "transform": [{"filter": "isValid(datum.r)"}], "mark": {"type": "errorbar", "color": "#000000", "ticks": false},
                         "encoding": {"x": {"field": "m", "type": "quantitative"}, "y": {"field": "r", "type": "quantitative", "title": "Data-Bkg."}, "yError": {"field": "e"}}},
                        {"data": {"name": "c3"}, "transform": [{"filter": "isValid(datum.r)"}], "mark": {"type": "circle", "size": 16, "color": "#000000", "opacity": 1},
                         "encoding": {"x": {"field": "m", "type": "quantitative"}, "y": {"field": "r", "type": "quantitative", "title": "Data-Bkg."}}},
                        {
                          "data": {"name": "one"},
                          "layer": [
                            {"mark": {"type": "text", "align": "right", "baseline": "alphabetic", "fontSize": 11, "dy": 22}, "encoding": {"x": {"datum": 150}, "y": {"datum": -258}, "text": {"value": "(GeV)"}}},
                            {"mark": {"type": "text", "align": "right", "baseline": "alphabetic", "fontSize": 8, "dx": -43, "dy": 25}, "encoding": {"x": {"datum": 150}, "y": {"datum": -258}, "text": {"value": "μμ"}}},
                            {"mark": {"type": "text", "align": "right", "baseline": "alphabetic", "fontSize": 11, "dx": -52, "dy": 22}, "encoding": {"x": {"datum": 150}, "y": {"datum": -258}, "text": {"value": "m"}}}
                          ]
                        }
                      ]
                    },
                    {"data": {"name": "k3"}, "mark": {"type": "point", "opacity": 0},
                     "encoding": {
                       "x": {"field": "m", "type": "quantitative", "axis": {"orient": "top", "tickCount": 40, "labels": false, "title": null, "tickSize": {"expr": "datum.value % 5 === 0 ? -6 : -3"}}},
                       "y": {"field": "c", "type": "quantitative", "axis": {"orient": "right", "tickCount": 10, "labels": false, "title": null, "tickSize": {"expr": "datum.value % 200 === 0 ? -5 : -2.5"}}}}}
                  ]
                }
              ]
            },
            {
              "spacing": 8,
              "bounds": "flush",
              "vconcat": [
                {
                  "width": 218, "height": 176,
                  "title": "137 fb⁻¹ (13 TeV)",
                  "resolve": {"axis": {"x": "independent", "y": "independent"}},
                  "layer": [
                    {
                      "layer": [
                        {"data": {"name": "c4"}, "mark": {"type": "line", "color": "#ee3333", "strokeWidth": 1, "strokeDash": [2, 2]},
                         "encoding": {
                           "x": {"field": "m", "type": "quantitative", "scale": {"domain": [110, 150], "nice": false, "zero": false},
                             "axis": {"orient": "bottom", "tickCount": 40, "labels": false, "title": null, "tickSize": {"expr": "datum.value % 5 === 0 ? -6 : -3"}}},
                           "y": {"field": "f", "type": "quantitative", "title": "Events / GeV", "scale": {"domain": [0, 11.2], "nice": false},
                             "axis": {"orient": "left", "tickCount": 22, "titleAnchor": "end", "titleFontSize": 11.5, "titleX": -15, "labelPadding": 9,
                               "labelExpr": "datum.value % 2 === 0 ? format(datum.value, '~g') : ''",
                               "tickSize": {"expr": "datum.value % 2 === 0 ? -6 : -3"}}}}},
                        {"data": {"name": "c4"}, "mark": {"type": "line", "color": "#ee3333", "strokeWidth": 1.3},
                         "encoding": {"x": {"field": "m", "type": "quantitative"}, "y": {"field": "f", "type": "quantitative", "title": "Events / GeV"}}},
                        {"data": {"name": "c4"}, "transform": [{"filter": "isValid(datum.d)"}], "mark": {"type": "circle", "size": 16, "color": "#000000", "opacity": 1},
                         "encoding": {"x": {"field": "m", "type": "quantitative"}, "y": {"field": "d", "type": "quantitative", "title": "Events / GeV"}}},
                        {
                          "data": {"name": "one"},
                          "layer": [
                            {"mark": {"type": "text", "align": "left", "baseline": "alphabetic", "fontSize": 7.5, "dy": -3, "color": "#333333"}, "encoding": {"x": {"datum": 110}, "y": {"datum": 11.2}, "text": {"value": "×10³"}}},
                            {"mark": {"type": "text", "align": "left", "baseline": "alphabetic", "fontSize": 10.5, "fontWeight": "bold"}, "encoding": {"x": {"datum": 112.8}, "y": {"datum": 9.82}, "text": {"value": "CMS"}}},
                            {"mark": {"type": "text", "align": "left", "baseline": "alphabetic", "fontSize": 8, "fontWeight": "bold"}, "encoding": {"x": {"datum": 112.8}, "y": {"datum": 8.98}, "text": {"value": "ggH-cat4"}}},
                            {"mark": {"type": "text", "align": "left", "baseline": "alphabetic", "fontSize": 8.5}, "encoding": {"x": {"datum": 112.8}, "y": {"datum": 8.24}, "text": {"value": "m"}}},
                            {"mark": {"type": "text", "align": "left", "baseline": "alphabetic", "fontSize": 6, "dx": 7, "dy": 2}, "encoding": {"x": {"datum": 112.8}, "y": {"datum": 8.24}, "text": {"value": "H"}}},
                            {"mark": {"type": "text", "align": "left", "baseline": "alphabetic", "fontSize": 8.5, "dx": 12.5}, "encoding": {"x": {"datum": 112.8}, "y": {"datum": 8.24}, "text": {"value": "= 125.38 GeV"}}},
                            {"mark": {"type": "rule", "color": "#000000", "strokeWidth": 1}, "encoding": {"x": {"datum": 133.5}, "y": {"datum": 9.79}, "y2": {"datum": 10.28}}},
                            {"mark": {"type": "circle", "size": 16, "color": "#000000", "opacity": 1}, "encoding": {"x": {"datum": 133.5}, "y": {"datum": 10.04}}},
                            {"mark": {"type": "text", "align": "left", "baseline": "middle", "fontSize": 9}, "encoding": {"x": {"datum": 135.65}, "y": {"datum": 10.04}, "text": {"value": "Data"}}},
                            {"mark": {"type": "rule", "color": "#ee3333", "strokeWidth": 1.3}, "encoding": {"x": {"datum": 131.8}, "x2": {"datum": 135.2}, "y": {"datum": 9.09}}},
                            {"mark": {"type": "text", "align": "left", "baseline": "middle", "fontSize": 9}, "encoding": {"x": {"datum": 135.65}, "y": {"datum": 9.09}, "text": {"value": "S+B fit"}}},
                            {"mark": {"type": "rule", "color": "#ee3333", "strokeWidth": 1, "strokeDash": [2, 2]}, "encoding": {"x": {"datum": 131.8}, "x2": {"datum": 135.2}, "y": {"datum": 8.14}}},
                            {"mark": {"type": "text", "align": "left", "baseline": "middle", "fontSize": 9}, "encoding": {"x": {"datum": 135.65}, "y": {"datum": 8.14}, "text": {"value": "Bkg. component"}}},
                            {"mark": {"type": "rect", "fill": "#00cc00", "stroke": "#2f5f2f", "strokeWidth": 1}, "encoding": {"x": {"datum": 131.6}, "x2": {"datum": 135.1}, "y": {"datum": 7.55}, "y2": {"datum": 6.88}}},
                            {"mark": {"type": "text", "align": "left", "baseline": "middle", "fontSize": 9}, "encoding": {"x": {"datum": 135.65}, "y": {"datum": 7.21}, "text": {"value": "± 1 σ"}}},
                            {"mark": {"type": "rect", "fill": "#ffcc00", "stroke": "#6a5a20", "strokeWidth": 1}, "encoding": {"x": {"datum": 131.6}, "x2": {"datum": 135.1}, "y": {"datum": 6.59}, "y2": {"datum": 5.9}}},
                            {"mark": {"type": "text", "align": "left", "baseline": "middle", "fontSize": 9}, "encoding": {"x": {"datum": 135.65}, "y": {"datum": 6.25}, "text": {"value": "± 2 σ"}}}
                          ]
                        }
                      ]
                    },
                    {"data": {"name": "c4"}, "mark": {"type": "point", "opacity": 0},
                     "encoding": {
                       "x": {"field": "m", "type": "quantitative", "axis": {"orient": "top", "tickCount": 40, "labels": false, "title": null, "tickSize": {"expr": "datum.value % 5 === 0 ? -6 : -3"}}},
                       "y": {"field": "f", "type": "quantitative", "axis": {"orient": "right", "tickCount": 22, "labels": false, "title": null, "tickSize": {"expr": "datum.value % 2 === 0 ? -6 : -3"}}}}}
                  ]
                },
                {
                  "width": 218, "height": 49,
                  "resolve": {"axis": {"x": "independent", "y": "independent"}},
                  "layer": [
                    {
                      "layer": [
                        {"data": {"name": "k4"}, "mark": {"type": "errorband", "color": "#ffcc00", "opacity": 1, "interpolate": "monotone"},
                         "encoding": {
                           "x": {"field": "m", "type": "quantitative", "scale": {"domain": [110, 150], "nice": false, "zero": false},
                             "axis": {"orient": "bottom", "tickCount": 40, "title": null, "labelPadding": 10, "labelExpr": "datum.value % 5 === 0 ? datum.label : ''", "tickSize": {"expr": "datum.value % 5 === 0 ? -6 : -3"}}},
                           "y": {"field": "c", "type": "quantitative", "title": "Data-Bkg.", "scale": {"domain": [-248, 248], "nice": false},
                             "axis": {"orient": "left", "tickCount": 10, "titleFontSize": 11, "titleX": -17, "labelPadding": 8,
                               "labelExpr": "datum.value % 200 === 0 ? format(datum.value, '~g') : ''",
                               "tickSize": {"expr": "datum.value % 200 === 0 ? -5 : -2.5"}}},
                           "yError": {"field": "e2"}}},
                        {"data": {"name": "k4"}, "mark": {"type": "errorband", "color": "#00cc00", "opacity": 1, "interpolate": "monotone"},
                         "encoding": {"x": {"field": "m", "type": "quantitative"}, "y": {"field": "c", "type": "quantitative", "title": "Data-Bkg."}, "yError": {"field": "e1"}}},
                        {"data": {"name": "sig"}, "mark": {"type": "line", "color": "#ee3333", "strokeWidth": 1.2, "interpolate": "monotone"},
                         "encoding": {"x": {"field": "m", "type": "quantitative"}, "y": {"field": "s4", "type": "quantitative", "title": "Data-Bkg."}}},
                        {"data": {"name": "c4"}, "transform": [{"filter": "isValid(datum.r)"}], "mark": {"type": "errorbar", "color": "#000000", "ticks": false},
                         "encoding": {"x": {"field": "m", "type": "quantitative"}, "y": {"field": "r", "type": "quantitative", "title": "Data-Bkg."}, "yError": {"field": "e"}}},
                        {"data": {"name": "c4"}, "transform": [{"filter": "isValid(datum.r)"}], "mark": {"type": "circle", "size": 16, "color": "#000000", "opacity": 1},
                         "encoding": {"x": {"field": "m", "type": "quantitative"}, "y": {"field": "r", "type": "quantitative", "title": "Data-Bkg."}}},
                        {
                          "data": {"name": "one"},
                          "layer": [
                            {"mark": {"type": "text", "align": "right", "baseline": "alphabetic", "fontSize": 11, "dy": 22}, "encoding": {"x": {"datum": 150}, "y": {"datum": -248}, "text": {"value": "(GeV)"}}},
                            {"mark": {"type": "text", "align": "right", "baseline": "alphabetic", "fontSize": 8, "dx": -43, "dy": 25}, "encoding": {"x": {"datum": 150}, "y": {"datum": -248}, "text": {"value": "μμ"}}},
                            {"mark": {"type": "text", "align": "right", "baseline": "alphabetic", "fontSize": 11, "dx": -52, "dy": 22}, "encoding": {"x": {"datum": 150}, "y": {"datum": -248}, "text": {"value": "m"}}}
                          ]
                        }
                      ]
                    },
                    {"data": {"name": "k4"}, "mark": {"type": "point", "opacity": 0},
                     "encoding": {
                       "x": {"field": "m", "type": "quantitative", "axis": {"orient": "top", "tickCount": 40, "labels": false, "title": null, "tickSize": {"expr": "datum.value % 5 === 0 ? -6 : -3"}}},
                       "y": {"field": "c", "type": "quantitative", "axis": {"orient": "right", "tickCount": 10, "labels": false, "title": null, "tickSize": {"expr": "datum.value % 200 === 0 ? -5 : -2.5"}}}}}
                  ]
                }
              ]
            }
          ]
        },
        {
          "spacing": 8,
          "bounds": "flush",
          "vconcat": [
            {
              "width": 218, "height": 176,
              "title": "137 fb⁻¹ (13 TeV)",
              "resolve": {"axis": {"x": "independent", "y": "independent"}},
              "layer": [
                {
                  "layer": [
                    {"data": {"name": "k5"}, "mark": {"type": "errorband", "color": "#ffcc00", "opacity": 1, "interpolate": "monotone"},
                     "encoding": {
                       "x": {"field": "m", "type": "quantitative", "scale": {"domain": [110, 150], "nice": false, "zero": false},
                         "axis": {"orient": "bottom", "tickCount": 40, "labels": false, "title": null, "tickSize": {"expr": "datum.value % 5 === 0 ? -6 : -3"}}},
                       "y": {"field": "f", "type": "quantitative", "title": "Events / GeV", "scale": {"domain": [0, 2.01], "nice": false},
                         "axis": {"orient": "left", "tickCount": 40, "titleAnchor": "end", "titleFontSize": 11.5, "titleX": -15, "labelPadding": 9,
                           "labelExpr": "abs(datum.value * 5 - round(datum.value * 5)) < 0.000001 ? format(datum.value, '~g') : ''",
                           "tickSize": {"expr": "abs(datum.value * 5 - round(datum.value * 5)) < 0.000001 ? -6 : -3"}}},
                       "yError": {"field": "g2"}}},
                    {"data": {"name": "k5"}, "mark": {"type": "errorband", "color": "#00cc00", "opacity": 1, "interpolate": "monotone"},
                     "encoding": {"x": {"field": "m", "type": "quantitative"}, "y": {"field": "f", "type": "quantitative", "title": "Events / GeV"}, "yError": {"field": "g1"}}},
                    {"data": {"name": "c5"}, "mark": {"type": "line", "color": "#ee3333", "strokeWidth": 1, "strokeDash": [2, 2]},
                     "encoding": {"x": {"field": "m", "type": "quantitative"}, "y": {"field": "f", "type": "quantitative", "title": "Events / GeV"}}},
                    {"data": {"name": "c5"}, "mark": {"type": "line", "color": "#ee3333", "strokeWidth": 1.3},
                     "encoding": {"x": {"field": "m", "type": "quantitative"}, "y": {"field": "f", "type": "quantitative", "title": "Events / GeV"}}},
                    {"data": {"name": "c5"}, "transform": [{"filter": "isValid(datum.d)"}], "mark": {"type": "errorbar", "color": "#000000", "ticks": false},
                     "encoding": {"x": {"field": "m", "type": "quantitative"}, "y": {"field": "d", "type": "quantitative", "title": "Events / GeV"}, "yError": {"field": "ek"}}},
                    {"data": {"name": "c5"}, "transform": [{"filter": "isValid(datum.d)"}], "mark": {"type": "circle", "size": 16, "color": "#000000", "opacity": 1},
                     "encoding": {"x": {"field": "m", "type": "quantitative"}, "y": {"field": "d", "type": "quantitative", "title": "Events / GeV"}}},
                    {
                      "data": {"name": "one"},
                      "layer": [
                        {"mark": {"type": "text", "align": "left", "baseline": "alphabetic", "fontSize": 7.5, "dy": -3, "color": "#333333"}, "encoding": {"x": {"datum": 110}, "y": {"datum": 2.01}, "text": {"value": "×10³"}}},
                        {"mark": {"type": "text", "align": "left", "baseline": "alphabetic", "fontSize": 10.5, "fontWeight": "bold"}, "encoding": {"x": {"datum": 112.8}, "y": {"datum": 1.763}, "text": {"value": "CMS"}}},
                        {"mark": {"type": "text", "align": "left", "baseline": "alphabetic", "fontSize": 8, "fontWeight": "bold"}, "encoding": {"x": {"datum": 112.8}, "y": {"datum": 1.612}, "text": {"value": "ggH-cat5"}}},
                        {"mark": {"type": "text", "align": "left", "baseline": "alphabetic", "fontSize": 8.5}, "encoding": {"x": {"datum": 112.8}, "y": {"datum": 1.479}, "text": {"value": "m"}}},
                        {"mark": {"type": "text", "align": "left", "baseline": "alphabetic", "fontSize": 6, "dx": 7, "dy": 2}, "encoding": {"x": {"datum": 112.8}, "y": {"datum": 1.479}, "text": {"value": "H"}}},
                        {"mark": {"type": "text", "align": "left", "baseline": "alphabetic", "fontSize": 8.5, "dx": 12.5}, "encoding": {"x": {"datum": 112.8}, "y": {"datum": 1.479}, "text": {"value": "= 125.38 GeV"}}},
                        {"mark": {"type": "rule", "color": "#000000", "strokeWidth": 1}, "encoding": {"x": {"datum": 133.5}, "y": {"datum": 1.757}, "y2": {"datum": 1.845}}},
                        {"mark": {"type": "circle", "size": 16, "color": "#000000", "opacity": 1}, "encoding": {"x": {"datum": 133.5}, "y": {"datum": 1.801}}},
                        {"mark": {"type": "text", "align": "left", "baseline": "middle", "fontSize": 9}, "encoding": {"x": {"datum": 135.65}, "y": {"datum": 1.801}, "text": {"value": "Data"}}},
                        {"mark": {"type": "rule", "color": "#ee3333", "strokeWidth": 1.3}, "encoding": {"x": {"datum": 131.8}, "x2": {"datum": 135.2}, "y": {"datum": 1.632}}},
                        {"mark": {"type": "text", "align": "left", "baseline": "middle", "fontSize": 9}, "encoding": {"x": {"datum": 135.65}, "y": {"datum": 1.632}, "text": {"value": "S+B fit"}}},
                        {"mark": {"type": "rule", "color": "#ee3333", "strokeWidth": 1, "strokeDash": [2, 2]}, "encoding": {"x": {"datum": 131.8}, "x2": {"datum": 135.2}, "y": {"datum": 1.461}}},
                        {"mark": {"type": "text", "align": "left", "baseline": "middle", "fontSize": 9}, "encoding": {"x": {"datum": 135.65}, "y": {"datum": 1.461}, "text": {"value": "Bkg. component"}}},
                        {"mark": {"type": "rect", "fill": "#00cc00", "stroke": "#2f5f2f", "strokeWidth": 1}, "encoding": {"x": {"datum": 131.6}, "x2": {"datum": 135.1}, "y": {"datum": 1.355}, "y2": {"datum": 1.234}}},
                        {"mark": {"type": "text", "align": "left", "baseline": "middle", "fontSize": 9}, "encoding": {"x": {"datum": 135.65}, "y": {"datum": 1.294}, "text": {"value": "± 1 σ"}}},
                        {"mark": {"type": "rect", "fill": "#ffcc00", "stroke": "#6a5a20", "strokeWidth": 1}, "encoding": {"x": {"datum": 131.6}, "x2": {"datum": 135.1}, "y": {"datum": 1.182}, "y2": {"datum": 1.059}}},
                        {"mark": {"type": "text", "align": "left", "baseline": "middle", "fontSize": 9}, "encoding": {"x": {"datum": 135.65}, "y": {"datum": 1.122}, "text": {"value": "± 2 σ"}}}
                      ]
                    }
                  ]
                },
                {"data": {"name": "c5"}, "mark": {"type": "point", "opacity": 0},
                 "encoding": {
                   "x": {"field": "m", "type": "quantitative", "axis": {"orient": "top", "tickCount": 40, "labels": false, "title": null, "tickSize": {"expr": "datum.value % 5 === 0 ? -6 : -3"}}},
                   "y": {"field": "f", "type": "quantitative", "axis": {"orient": "right", "tickCount": 40, "labels": false, "title": null, "tickSize": {"expr": "abs(datum.value * 5 - round(datum.value * 5)) < 0.000001 ? -6 : -3"}}}}}
              ]
            },
            {
              "width": 218, "height": 49,
              "resolve": {"axis": {"x": "independent", "y": "independent"}},
              "layer": [
                {
                  "layer": [
                    {"data": {"name": "k5"}, "mark": {"type": "errorband", "color": "#ffcc00", "opacity": 1, "interpolate": "monotone"},
                     "encoding": {
                       "x": {"field": "m", "type": "quantitative", "scale": {"domain": [110, 150], "nice": false, "zero": false},
                         "axis": {"orient": "bottom", "tickCount": 40, "title": null, "labelPadding": 10, "labelExpr": "datum.value % 5 === 0 ? datum.label : ''", "tickSize": {"expr": "datum.value % 5 === 0 ? -6 : -3"}}},
                       "y": {"field": "c", "type": "quantitative", "title": "Data-Bkg.", "scale": {"domain": [-109, 109], "nice": false},
                         "axis": {"orient": "left", "tickCount": 21, "titleFontSize": 11, "titleX": -17, "labelPadding": 8,
                           "labelExpr": "datum.value % 50 === 0 ? format(datum.value, '~g') : ''",
                           "tickSize": {"expr": "datum.value % 50 === 0 ? -5 : -2.5"}}},
                       "yError": {"field": "e2"}}},
                    {"data": {"name": "k5"}, "mark": {"type": "errorband", "color": "#00cc00", "opacity": 1, "interpolate": "monotone"},
                     "encoding": {"x": {"field": "m", "type": "quantitative"}, "y": {"field": "c", "type": "quantitative", "title": "Data-Bkg."}, "yError": {"field": "e1"}}},
                    {"data": {"name": "sig"}, "mark": {"type": "line", "color": "#ee3333", "strokeWidth": 1.2, "interpolate": "monotone"},
                     "encoding": {"x": {"field": "m", "type": "quantitative"}, "y": {"field": "s5", "type": "quantitative", "title": "Data-Bkg."}}},
                    {"data": {"name": "c5"}, "transform": [{"filter": "isValid(datum.r)"}], "mark": {"type": "errorbar", "color": "#000000", "ticks": false},
                     "encoding": {"x": {"field": "m", "type": "quantitative"}, "y": {"field": "r", "type": "quantitative", "title": "Data-Bkg."}, "yError": {"field": "e"}}},
                    {"data": {"name": "c5"}, "transform": [{"filter": "isValid(datum.r)"}], "mark": {"type": "circle", "size": 16, "color": "#000000", "opacity": 1},
                     "encoding": {"x": {"field": "m", "type": "quantitative"}, "y": {"field": "r", "type": "quantitative", "title": "Data-Bkg."}}},
                    {
                      "data": {"name": "one"},
                      "layer": [
                        {"mark": {"type": "text", "align": "right", "baseline": "alphabetic", "fontSize": 11, "dy": 22}, "encoding": {"x": {"datum": 150}, "y": {"datum": -109}, "text": {"value": "(GeV)"}}},
                        {"mark": {"type": "text", "align": "right", "baseline": "alphabetic", "fontSize": 8, "dx": -43, "dy": 25}, "encoding": {"x": {"datum": 150}, "y": {"datum": -109}, "text": {"value": "μμ"}}},
                        {"mark": {"type": "text", "align": "right", "baseline": "alphabetic", "fontSize": 11, "dx": -52, "dy": 22}, "encoding": {"x": {"datum": 150}, "y": {"datum": -109}, "text": {"value": "m"}}}
                      ]
                    }
                  ]
                },
                {"data": {"name": "k5"}, "mark": {"type": "point", "opacity": 0},
                 "encoding": {
                   "x": {"field": "m", "type": "quantitative", "axis": {"orient": "top", "tickCount": 40, "labels": false, "title": null, "tickSize": {"expr": "datum.value % 5 === 0 ? -6 : -3"}}},
                   "y": {"field": "c", "type": "quantitative", "axis": {"orient": "right", "tickCount": 21, "labels": false, "title": null, "tickSize": {"expr": "datum.value % 50 === 0 ? -5 : -2.5"}}}}}
              ]
            }
          ]
        }
      ]
    },
    {
      "width": 627, "height": 24,
      "view": {"stroke": null},
      "data": {"name": "one"},
      "layer": [
        {"mark": {"type": "text", "align": "left", "baseline": "middle", "font": "Liberation Serif", "fontSize": 16.6, "fontWeight": "bold", "color": "#111111"},
         "encoding": {"x": {"datum": -24, "type": "quantitative", "scale": {"domain": [0, 627], "nice": false, "zero": false}, "axis": null}, "text": {"value": "Figure 5"}}},
        {"mark": {"type": "text", "align": "left", "baseline": "middle", "font": "Liberation Serif", "fontSize": 16.6, "color": "#111111"},
         "encoding": {"x": {"datum": 35, "type": "quantitative", "axis": null}, "text": {"value": ". Comparison between the data and the total background extracted from a S+B fit per-"}}}
      ]
    }
  ]
}
